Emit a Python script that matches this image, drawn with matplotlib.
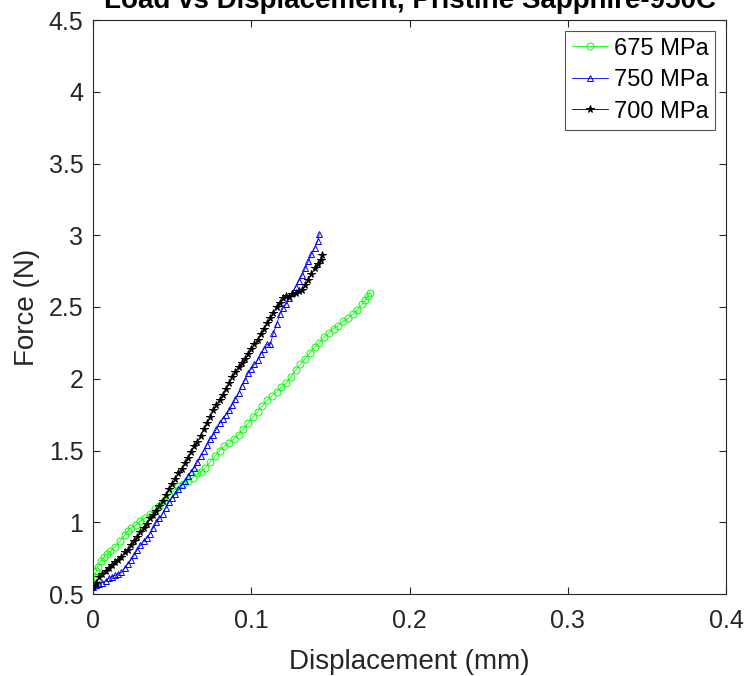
import numpy as np
import matplotlib.pyplot as plt

plt.rcParams['font.family'] = ['Liberation Sans', 'DejaVu Sans']

# 675 MPa
disp_675 = [0.000, 0.001, 0.002, 0.003, 0.005, 0.007, 0.009, 0.011, 0.014, 0.017,
            0.020, 0.022, 0.024, 0.027, 0.030, 0.033, 0.036, 0.039, 0.042, 0.045,
            0.048, 0.051, 0.054, 0.057, 0.060, 0.063, 0.066, 0.068, 0.071, 0.074,
            0.077, 0.080, 0.083, 0.086, 0.089, 0.092, 0.095, 0.098, 0.101, 0.104,
            0.107, 0.110, 0.113, 0.116, 0.119, 0.122, 0.125, 0.128, 0.131, 0.134,
            0.137, 0.140, 0.143, 0.146, 0.149, 0.152, 0.155, 0.158, 0.161, 0.164,
            0.167, 0.170, 0.172, 0.174, 0.175]
force_675 = [0.57, 0.62, 0.66, 0.69, 0.73, 0.76, 0.78, 0.80, 0.83, 0.87,
             0.91, 0.94, 0.96, 0.98, 1.01, 1.03, 1.06, 1.09, 1.11, 1.15,
             1.19, 1.22, 1.25, 1.27, 1.29, 1.31, 1.34, 1.35, 1.38, 1.42,
             1.46, 1.50, 1.53, 1.55, 1.58, 1.61, 1.65, 1.69, 1.73, 1.77,
             1.81, 1.85, 1.88, 1.91, 1.94, 1.97, 2.01, 2.06, 2.10, 2.14,
             2.18, 2.22, 2.25, 2.29, 2.32, 2.35, 2.37, 2.40, 2.42, 2.45,
             2.48, 2.52, 2.55, 2.58, 2.60]

# 750 MPa
disp_750 = [0.000, 0.002, 0.004, 0.006, 0.008, 0.010, 0.012, 0.014, 0.016, 0.018,
            0.020, 0.022, 0.024, 0.026, 0.028, 0.030, 0.032, 0.034, 0.036, 0.038,
            0.040, 0.042, 0.044, 0.046, 0.048, 0.050, 0.052, 0.054, 0.056, 0.058,
            0.060, 0.062, 0.064, 0.066, 0.068, 0.070, 0.072, 0.074, 0.076, 0.078,
            0.080, 0.082, 0.084, 0.086, 0.088, 0.090, 0.092, 0.094, 0.096, 0.098,
            0.100, 0.102, 0.104, 0.106, 0.108, 0.110, 0.112, 0.114, 0.116, 0.118,
            0.120, 0.122, 0.124, 0.126, 0.128, 0.130, 0.132, 0.134, 0.136, 0.138,
            0.140, 0.142, 0.143]
force_750 = [0.55, 0.56, 0.57, 0.58, 0.59, 0.61, 0.62, 0.63, 0.64, 0.65,
             0.68, 0.71, 0.74, 0.77, 0.81, 0.84, 0.87, 0.89, 0.92, 0.96,
             1.00, 1.03, 1.06, 1.10, 1.14, 1.17, 1.20, 1.23, 1.26, 1.29,
             1.32, 1.35, 1.38, 1.42, 1.46, 1.50, 1.54, 1.58, 1.61, 1.65,
             1.69, 1.72, 1.75, 1.78, 1.82, 1.86, 1.90, 1.95, 1.99, 2.04,
             2.07, 2.10, 2.13, 2.17, 2.21, 2.24, 2.24, 2.32, 2.38, 2.45,
             2.49, 2.52, 2.56, 2.60, 2.64, 2.68, 2.72, 2.77, 2.82, 2.87,
             2.91, 2.96, 3.01]

# 700 MPa
disp_700 = [0.000, 0.002, 0.004, 0.006, 0.008, 0.010, 0.012, 0.014, 0.016, 0.018,
            0.020, 0.022, 0.024, 0.026, 0.028, 0.030, 0.032, 0.034, 0.036, 0.038,
            0.040, 0.042, 0.044, 0.046, 0.048, 0.050, 0.052, 0.054, 0.056, 0.058,
            0.060, 0.062, 0.064, 0.066, 0.068, 0.070, 0.072, 0.074, 0.076, 0.078,
            0.080, 0.082, 0.084, 0.086, 0.088, 0.090, 0.092, 0.094, 0.096, 0.098,
            0.100, 0.102, 0.104, 0.106, 0.108, 0.110, 0.112, 0.114, 0.116, 0.118,
            0.120, 0.122, 0.124, 0.126, 0.128, 0.130, 0.132, 0.134, 0.136, 0.138,
            0.140, 0.142, 0.144, 0.145]
force_700 = [0.55, 0.58, 0.62, 0.64, 0.66, 0.68, 0.70, 0.72, 0.74, 0.76,
             0.79, 0.81, 0.84, 0.87, 0.90, 0.93, 0.96, 0.99, 1.03, 1.05,
             1.08, 1.11, 1.15, 1.19, 1.23, 1.27, 1.30, 1.34, 1.37, 1.41,
             1.45, 1.49, 1.53, 1.56, 1.60, 1.65, 1.69, 1.73, 1.78, 1.82,
             1.85, 1.89, 1.93, 1.97, 2.01, 2.05, 2.08, 2.11, 2.14, 2.17,
             2.21, 2.24, 2.27, 2.31, 2.35, 2.39, 2.42, 2.46, 2.50, 2.53,
             2.56, 2.58, 2.57, 2.59, 2.60, 2.61, 2.62, 2.65, 2.69, 2.73,
             2.77, 2.80, 2.83, 2.86]

dark = '#262626'

fig = plt.figure(figsize=(7.48, 6.76), dpi=100)
ax = fig.add_axes([93/748, 1 - 594/676, (726 - 93)/748, (594 - 20)/676])

ax.plot(disp_675, force_675, '-o', color=(0, 1, 0), lw=0.6, ms=5,
        mfc='none', mew=0.7, label='675 MPa')
ax.plot(disp_750, force_750, '-^', color=(0, 0, 1), lw=0.6, ms=5,
        mfc='none', mew=0.7, label='750 MPa')
ax.plot(disp_700, force_700, '-*', color='k', lw=0.6, ms=5.5,
        mew=0.7, label='700 MPa')

ax.set_xlim(0, 0.4)
ax.set_ylim(0.5, 4.5)
ax.set_xticks([0, 0.1, 0.2, 0.3, 0.4])
ax.set_xticklabels(['0', '0.1', '0.2', '0.3', '0.4'])
ax.set_yticks(np.arange(0.5, 4.6, 0.5))
ax.set_yticklabels(['0.5', '1', '1.5', '2', '2.5', '3', '3.5', '4', '4.5'])
ax.tick_params(direction='in', top=True, right=True, length=5, width=0.8,
               labelsize=18, colors=dark)
ax.tick_params(axis='x', pad=11)
ax.tick_params(axis='y', pad=7)
for s in ax.spines.values():
    s.set_color(dark)
    s.set_linewidth(0.8)

ax.set_xlabel('Displacement (mm)', fontsize=20, color=dark, labelpad=11)
ax.set_ylabel('Force (N)', fontsize=20, color=dark, labelpad=6)

fig.text(0.5 * (93 + 726) / 748, 1 - 8 / 676,
         'Load vs Displacement, Pristine Sapphire-950C',
         ha='center', va='baseline', fontsize=20, fontweight='bold')

leg = ax.legend(loc='upper right', fontsize=17, frameon=True, fancybox=False,
                handlelength=1.5, handletextpad=0.25, borderpad=0.3,
                labelspacing=0.4, borderaxespad=0.45)
leg.get_frame().set_edgecolor(dark)
leg.get_frame().set_linewidth(0.8)

fig.savefig('out.png', dpi=100)
